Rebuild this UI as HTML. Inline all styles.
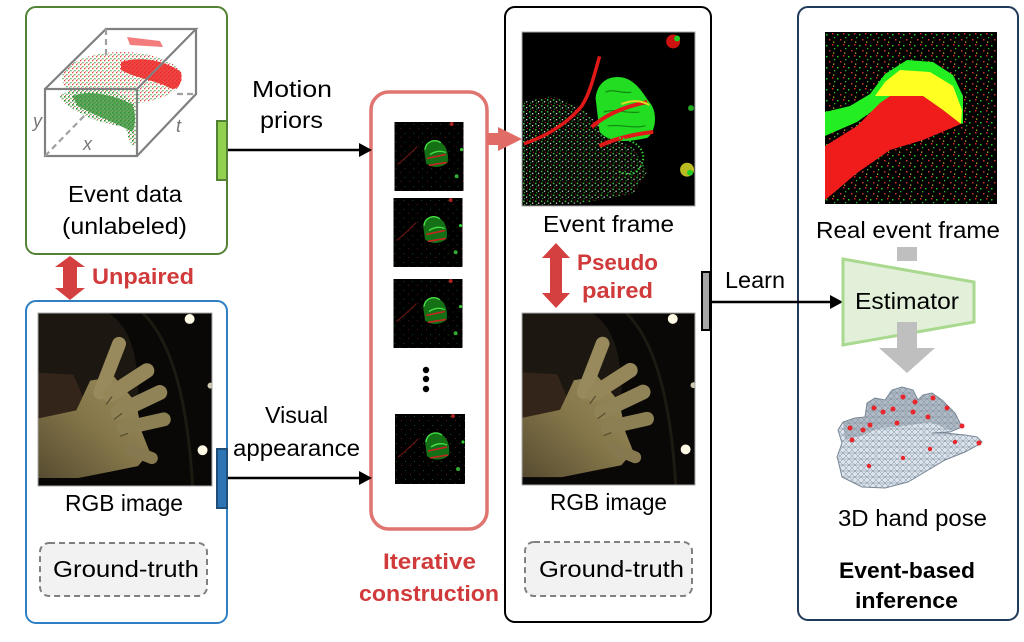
<!DOCTYPE html>
<html><head><meta charset="utf-8">
<style>
html,body{margin:0;padding:0;background:#fff;}
svg{display:block;}
text{font-family:"Liberation Sans",sans-serif;}
</style></head><body>
<svg width="1024" height="642" viewBox="0 0 1024 642" xmlns="http://www.w3.org/2000/svg">
<defs>
  <pattern id="spG" width="6" height="6" patternUnits="userSpaceOnUse">
    <rect x="1" y="1" width="1.6" height="1.6" fill="#3fbf3f"/>
    <rect x="4" y="3" width="1.3" height="1.3" fill="#d8f0d8"/>
    <rect x="2" y="4.5" width="1.2" height="1.2" fill="#2f9f2f"/>
    <rect x="5" y="0" width="1" height="1" fill="#c23"/>
  </pattern>
  <pattern id="spRG" width="11" height="11" patternUnits="userSpaceOnUse">
    <rect x="1" y="2" width="1.5" height="1.5" fill="#2c2"/>
    <rect x="7" y="1" width="1.5" height="1.5" fill="#d22"/>
    <rect x="4" y="7" width="1.5" height="1.5" fill="#c33"/>
    <rect x="9" y="5" width="1.3" height="1.3" fill="#3b3"/>
    <rect x="8" y="9.5" width="1.3" height="1.3" fill="#bb2"/>
  </pattern>
  <pattern id="spD" width="9" height="9" patternUnits="userSpaceOnUse">
    <rect x="1" y="2" width="1" height="1" fill="#1f4f1f"/>
    <rect x="6" y="6" width="1" height="1" fill="#4f1f1f"/>
  </pattern>
  <pattern id="cloudG" width="4" height="4" patternUnits="userSpaceOnUse">
    <rect x="0" y="0" width="1.6" height="1.6" fill="#2f8f2f"/>
    <rect x="2.2" y="1.8" width="1.4" height="1.4" fill="#4a9a3a"/>
    <rect x="1" y="3" width="1" height="1" fill="#d55"/>
  </pattern>
  <pattern id="cloudM" width="4" height="4" patternUnits="userSpaceOnUse">
    <rect x="0" y="0" width="1.3" height="1.3" fill="#d44"/>
    <rect x="2.3" y="2" width="1.3" height="1.3" fill="#4a4"/>
    <rect x="1" y="3" width="1" height="1" fill="#e88"/>
  </pattern>
  <pattern id="mesh" width="6" height="6" patternUnits="userSpaceOnUse">
    <rect width="6" height="6" fill="#dbe3ec"/>
    <path d="M0,0 L6,6 M6,0 L0,6 M0,3 L6,3" stroke="#7f8d9d" stroke-width="0.5"/>
  </pattern>
  <linearGradient id="skin" x1="1" y1="0" x2="0" y2="1">
    <stop offset="0" stop-color="#9c8e5e"/>
    <stop offset="0.5" stop-color="#847649"/>
    <stop offset="1" stop-color="#574c31"/>
  </linearGradient>

  <symbol id="rgb" viewBox="0 0 174 174">
    <rect width="174" height="174" fill="#090806"/>
    <path d="M0,0 L70,0 C95,15 102,50 100,100 L60,100 L0,110 Z" fill="#1c1811"/>
    <path d="M0,60 L35,62 L45,85 L40,105 L0,108 Z" fill="#33251a"/>
    <path d="M105,0 C135,30 150,90 155,174" stroke="#1d1a12" stroke-width="3" fill="none"/>
    <path d="M0,106 L38,98 L52,68 L76,64 L98,90 L104,120 L112,140 L100,154 L70,160 L40,166 L0,166 Z" fill="url(#skin)"/>
    <g stroke-linecap="round" fill="none">
      <line x1="62" y1="80" x2="81" y2="31" stroke="#988a5c" stroke-width="14"/>
      <line x1="72" y1="82" x2="109" y2="58" stroke="#95875a" stroke-width="15"/>
      <line x1="80" y1="100" x2="122" y2="80" stroke="#918358" stroke-width="15"/>
      <line x1="86" y1="116" x2="126" y2="107" stroke="#8c7f54" stroke-width="14"/>
      <line x1="92" y1="137" x2="114" y2="146" stroke="#87794f" stroke-width="12"/>
    </g>
    <path d="M74,84 L68,92 M84,101 L76,107 M90,121 L82,124" stroke="#5a5030" stroke-width="1.3" fill="none"/>
    <circle cx="152" cy="6" r="5" fill="#fffbe6"/>
    <circle cx="173" cy="73" r="3" fill="#cfc9b0"/>
    <circle cx="165" cy="138" r="5" fill="#fffbe6"/>
  </symbol>

  <symbol id="evf" viewBox="0 0 174 174">
    <rect width="174" height="174" fill="#000"/>
    <path d="M0,70 L30,64 L60,76 L84,100 L112,116 L126,140 L112,162 L60,172 L0,174 Z" fill="url(#spG)"/>
    <path d="M74,66 C76,48 90,42 104,46 C116,50 122,62 128,70 C136,78 136,98 126,106 C108,110 88,112 78,100 Z" fill="#22dd22"/>
    <path d="M84,60 C92,56 100,62 110,60 M82,80 C95,76 105,82 118,80 M86,94 C100,92 110,97 124,94" stroke="#118811" stroke-width="1.2" fill="none"/>
    <path d="M2,112 C25,104 45,92 60,74 C68,62 72,45 78,24" stroke="#e01818" stroke-width="3.5" fill="none"/>
    <path d="M70,95 C85,82 105,74 126,70" stroke="#e01818" stroke-width="4" fill="none"/>
    <path d="M100,72 C110,68 120,68 128,73" stroke="#dddd22" stroke-width="2" fill="none"/>
    <path d="M78,114 C95,106 115,102 132,100" stroke="#e01818" stroke-width="4" fill="none"/>
    <path d="M98,106 C110,108 122,114 122,126 C120,140 110,146 98,140" stroke="#3c3" stroke-width="2" stroke-dasharray="1.5,2" fill="none"/>
    <circle cx="152" cy="9" r="7" fill="#c11"/><circle cx="156" cy="6" r="3" fill="#2c2"/>
    <circle cx="166" cy="138" r="7" fill="#bb2"/><circle cx="169" cy="141" r="3" fill="#2c2"/>
    <circle cx="170" cy="76" r="3" fill="#2a2"/>
  </symbol>

  <symbol id="thumb" viewBox="0 0 70 70">
    <rect width="70" height="70" fill="#000"/>
    <rect width="70" height="70" fill="url(#spD)"/>
    <path d="M3,43 C10,38 18,30 23,25" stroke="#6a1515" stroke-width="1.2" fill="none"/>
    <path d="M30,28 C31,19 40,17 46,20 C53,24 55,32 54,41 C48,47 38,47 32,42 Z" fill="#157015"/>
    <path d="M31,28 C32,19 41,17 47,21 M36,33 C42,29 48,29 52,31" stroke="#4d4" stroke-width="1.4" fill="none"/>
    <path d="M33,37 L52,33 M35,44 L53,41" stroke="#c22" stroke-width="1.6" fill="none"/>
    <circle cx="58" cy="2" r="2" fill="#a22"/>
    <circle cx="68" cy="28" r="1.6" fill="#3c3"/>
    <circle cx="63" cy="55" r="2" fill="#3a3"/>
  </symbol>

  <symbol id="ref" viewBox="0 0 172 172">
    <rect width="172" height="172" fill="#000"/>
    <rect width="172" height="172" fill="url(#spRG)"/>
    <path d="M0,80 L25,74 L45,62 L60,42 L82,28 L108,30 L128,43 L138,64 L138,92 L60,70 L32,90 L0,104 Z" fill="#22ee22"/>
    <path d="M50,64 L60,50 L75,38 L105,40 L128,54 L137,78 L136,92 L118,78 L98,64 L65,64 Z" fill="#ffff22"/>
    <path d="M0,114 L32,94 L55,71 L65,64 L98,64 L118,78 L136,92 L98,108 L65,118 L32,141 L12,158 L0,168 Z" fill="#f01c1c"/>
  </symbol>
</defs>

<!-- boxes -->
<rect x="26" y="7" width="201" height="247" rx="10" fill="#fff" stroke="#548235" stroke-width="2"/>
<rect x="26" y="301" width="201" height="322" rx="10" fill="#fff" stroke="#2f7fc4" stroke-width="2"/>
<rect x="505" y="7" width="206" height="615" rx="10" fill="#fff" stroke="#000" stroke-width="2"/>
<rect x="798" y="7" width="220" height="613" rx="10" fill="#fff" stroke="#1f3a5a" stroke-width="2"/>
<rect x="371" y="92" width="116" height="437" rx="18" fill="#fff" stroke="#e07470" stroke-width="3.5"/>

<!-- cube point cloud -->
<g>
  <ellipse cx="122" cy="78" rx="60" ry="26" fill="url(#cloudM)"/>
  <path d="M60,96 C70,88 90,84 110,90 C125,95 135,100 137,110 L137,145 C132,148 128,140 126,128 C115,125 100,122 90,118 C75,110 62,104 60,96 Z" fill="url(#cloudG)"/>
  <path d="M72,96 C90,90 110,94 132,104 C136,112 136,125 132,132 C115,122 95,116 78,106 Z" fill="#3a943a" opacity="0.8"/>
  <path d="M121,62 C140,56 165,60 181,72 C183,82 178,92 170,88 C155,80 135,78 121,70 Z" fill="#e22" opacity="0.85"/>
  <path d="M127,37 L160,41 L163,47 L130,45 Z" fill="#e44" opacity="0.7"/>
</g>
<g stroke="#808080" stroke-width="2.2" fill="none">
  <rect x="45" y="89" width="92" height="67"/>
  <path d="M45,89 L106,29 L196,29 L137,89 M196,29 L196,94 L137,156"/>
  <path d="M106,29 L106,55 M177,94 L196,94 M45,156 L86,114" stroke-dasharray="6,4" stroke="#a0a0a0"/>
</g>
<text x="33" y="127" font-family="Liberation Serif" font-style="italic" font-size="18" fill="#777">y</text>
<text x="176" y="132" font-family="Liberation Serif" font-style="italic" font-size="18" fill="#777">t</text>
<text x="83" y="150" font-family="Liberation Serif" font-style="italic" font-size="18" fill="#777">x</text>

<!-- images -->
<use href="#rgb" x="38" y="313" width="174" height="173"/>
<rect x="38" y="313" width="174" height="173" fill="none" stroke="#aaa" stroke-width="1"/>
<use href="#rgb" x="522" y="313" width="173" height="172"/>
<rect x="522" y="313" width="173" height="172" fill="none" stroke="#aaa" stroke-width="1"/>
<use href="#evf" x="522" y="32" width="173" height="174"/>
<rect x="522" y="32" width="173" height="174" fill="none" stroke="#aaa" stroke-width="1"/>
<use href="#ref" x="825" y="32" width="172" height="172"/>
<use href="#thumb" x="394" y="122" width="70" height="69"/>
<use href="#thumb" x="393" y="198" width="70" height="69"/>
<use href="#thumb" x="393" y="279" width="70" height="69"/>
<use href="#thumb" x="395" y="414" width="70" height="70"/>
<circle cx="426" cy="370" r="3.2" fill="#000"/>
<circle cx="426" cy="379" r="3.2" fill="#000"/>
<circle cx="426" cy="389" r="3.2" fill="#000"/>

<!-- ground truth boxes -->
<rect x="40" y="543" width="167" height="53" rx="9" fill="#f2f2f2" stroke="#808080" stroke-width="2" stroke-dasharray="6,4"/>
<rect x="525" y="542" width="167" height="54" rx="9" fill="#f2f2f2" stroke="#808080" stroke-width="2" stroke-dasharray="6,4"/>

<!-- connectors -->
<g stroke="#000" stroke-width="2.5">
  <line x1="227" y1="150" x2="362" y2="150"/>
  <line x1="227" y1="478" x2="362" y2="478"/>
  <line x1="710" y1="302" x2="832" y2="302"/>
</g>
<polygon points="359,143 372,150 359,157" fill="#000"/>
<polygon points="359,471 372,478 359,485" fill="#000"/>
<polygon points="830,295 843,302 830,309" fill="#000"/>
<polygon points="487,133 498,133 498,127 522,139 498,151 498,145 487,145" fill="#e06c66"/>

<!-- ports -->
<rect x="217" y="121" width="10" height="59" fill="#92d050" stroke="#548235" stroke-width="2"/>
<rect x="217" y="449" width="10" height="59" fill="#2e75b6" stroke="#1f4e79" stroke-width="2"/>
<rect x="702" y="272" width="8" height="58" fill="#a6a6a6" stroke="#000" stroke-width="2"/>

<!-- double arrows -->
<polygon points="70,256 85,267 77,267 77,288 85,288 70,300 55,288 63,288 63,267 55,267" fill="#d43f3f"/>
<polygon points="556,243 570,258 562,258 562,293 570,293 556,308 542,293 550,293 550,258 542,258" fill="#d43f3f"/>

<!-- estimator -->
<rect x="897" y="247" width="20" height="14" fill="#bfbfbf"/>
<polygon points="843,259 974,282 974,322 843,345" fill="#e2f0d9" stroke="#a9d98e" stroke-width="3"/>
<rect x="897" y="322" width="20" height="27" fill="#bfbfbf"/>
<polygon points="879,348 935,348 907,373" fill="#bfbfbf"/>

<!-- hand mesh -->
<path d="M838,460 L842,477 L862,487 L885,488 L908,482 L925,472 L945,460 L965,452 L978,445 L982,442 L977,437 L965,435 L945,433 L932,433 L950,432 L962,427 L955,413 L942,400 L932,393 L923,395 L918,400 L913,390 L902,387 L892,390 L885,400 L875,398 L867,403 L865,417 L855,418 L843,422 L838,430 L842,443 L837,457 Z" fill="url(#mesh)" stroke="#7a8796" stroke-width="1"/>
<path d="M843,422 L855,418 L865,417 L867,403 L875,398 L885,400 L892,390 L902,387 L913,390 L918,400 L923,395 L932,393 L942,400 L955,413 L962,427 L950,430 L930,422 L905,426 L880,428 L860,436 L845,440 Z" fill="#7d8a9a" opacity="0.45"/>
<g fill="#e8262b">
  <circle cx="903" cy="397" r="2.5"/><circle cx="915" cy="402" r="2.5"/><circle cx="933" cy="398" r="2.5"/>
  <circle cx="947" cy="408" r="2.5"/><circle cx="962" cy="426" r="2.5"/><circle cx="979" cy="443" r="2.5"/>
  <circle cx="955" cy="442" r="2.2"/><circle cx="930" cy="449" r="2.2"/><circle cx="903" cy="458" r="2.2"/>
  <circle cx="869" cy="466" r="2.2"/><circle cx="883" cy="412" r="2.5"/><circle cx="893" cy="409" r="2.5"/>
  <circle cx="874" cy="408" r="2.5"/><circle cx="913" cy="412" r="2.5"/><circle cx="928" cy="417" r="2.5"/>
  <circle cx="897" cy="423" r="2.5"/><circle cx="870" cy="425" r="2.5"/><circle cx="850" cy="428" r="2.5"/>
  <circle cx="863" cy="430" r="2.5"/><circle cx="852" cy="440" r="2.5"/>
</g>

<!-- text -->
<g font-size="23" fill="#000">
  <text x="252" y="97" textLength="80" lengthAdjust="spacingAndGlyphs">Motion</text>
  <text x="260" y="128" textLength="63" lengthAdjust="spacingAndGlyphs">priors</text>
  <text x="68" y="202" textLength="114" lengthAdjust="spacingAndGlyphs">Event data</text>
  <text x="62" y="234" textLength="125" lengthAdjust="spacingAndGlyphs">(unlabeled)</text>
  <text x="265" y="423" textLength="63" lengthAdjust="spacingAndGlyphs">Visual</text>
  <text x="233" y="456" textLength="127" lengthAdjust="spacingAndGlyphs">appearance</text>
  <text x="65" y="511" textLength="118" lengthAdjust="spacingAndGlyphs">RGB image</text>
  <text x="53" y="577" textLength="146" lengthAdjust="spacingAndGlyphs">Ground-truth</text>
  <text x="543" y="232" textLength="131" lengthAdjust="spacingAndGlyphs">Event frame</text>
  <text x="725" y="288" textLength="60" lengthAdjust="spacingAndGlyphs">Learn</text>
  <text x="550" y="510" textLength="117" lengthAdjust="spacingAndGlyphs">RGB image</text>
  <text x="539" y="577" textLength="145" lengthAdjust="spacingAndGlyphs">Ground-truth</text>
  <text x="816" y="238" textLength="184" lengthAdjust="spacingAndGlyphs">Real event frame</text>
  <text x="855" y="309" textLength="104" lengthAdjust="spacingAndGlyphs">Estimator</text>
  <text x="838" y="526" textLength="149" lengthAdjust="spacingAndGlyphs">3D hand pose</text>
</g>
<g font-size="22" font-weight="bold" fill="#d03a3a">
  <text x="92" y="284" textLength="102" lengthAdjust="spacingAndGlyphs">Unpaired</text>
  <text x="577" y="270" textLength="81" lengthAdjust="spacingAndGlyphs">Pseudo</text>
  <text x="582" y="298" textLength="71" lengthAdjust="spacingAndGlyphs">paired</text>
  <text x="383" y="569" textLength="93" lengthAdjust="spacingAndGlyphs">Iterative</text>
  <text x="359" y="601" textLength="140" lengthAdjust="spacingAndGlyphs">construction</text>
</g>
<g font-size="22" font-weight="bold" fill="#000">
  <text x="839" y="578" textLength="136" lengthAdjust="spacingAndGlyphs">Event-based</text>
  <text x="855" y="608" textLength="103" lengthAdjust="spacingAndGlyphs">inference</text>
</g>
</svg>
</body></html>
